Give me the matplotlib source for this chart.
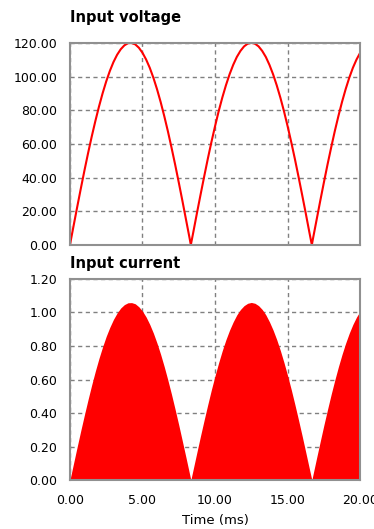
import matplotlib
matplotlib.use("Agg")
import matplotlib.pyplot as plt
from matplotlib.ticker import FormatStrFormatter

# sample times (ms) across 20 ms of full-wave rectified 60 Hz supply
time_ms = [
    0.0, 0.25, 0.5, 0.75, 1.0, 1.25, 1.5, 1.75, 2.0, 2.25, 2.5, 2.75,
    3.0, 3.25, 3.5, 3.75, 4.0, 4.25, 4.5, 4.75, 5.0, 5.25, 5.5, 5.75,
    6.0, 6.25, 6.5, 6.75, 7.0, 7.25, 7.5, 7.75, 8.0, 8.25, 8.33,
    8.5, 8.75, 9.0, 9.25, 9.5, 9.75, 10.0, 10.25, 10.5, 10.75, 11.0,
    11.25, 11.5, 11.75, 12.0, 12.25, 12.5, 12.75, 13.0, 13.25, 13.5,
    13.75, 14.0, 14.25, 14.5, 14.75, 15.0, 15.25, 15.5, 15.75, 16.0,
    16.25, 16.5, 16.67,
    16.75, 17.0, 17.25, 17.5, 17.75, 18.0, 18.25, 18.5, 18.75, 19.0,
    19.25, 19.5, 19.75, 20.0,
]

voltage = [
    0.0, 11.3, 22.5, 33.5, 44.2, 54.5, 64.3, 73.5, 82.1, 90.0, 97.1, 103.3,
    108.6, 112.9, 116.2, 118.5, 119.8, 119.9, 119.1, 117.1, 114.1, 110.1, 105.2, 99.3,
    92.5, 84.9, 76.5, 67.5, 57.8, 47.7, 37.1, 26.2, 15.0, 3.8, 0.0,
    7.5, 18.8, 29.8, 40.6, 51.1, 61.1, 70.5, 79.4, 87.5, 94.8, 101.3,
    106.9, 111.6, 115.2, 117.9, 119.5, 120.0, 119.5, 117.9, 115.2, 111.6,
    106.9, 101.3, 94.8, 87.5, 79.4, 70.5, 61.1, 51.1, 40.6, 29.8,
    18.8, 7.5, 0.0,
    3.8, 15.0, 26.2, 37.1, 47.7, 57.8, 67.5, 76.5, 84.9, 92.5,
    99.3, 105.2, 110.1, 114.1,
]

current = [
    0.0, 0.100, 0.199, 0.296, 0.390, 0.481, 0.568, 0.650, 0.726, 0.795, 0.858, 0.912,
    0.959, 0.997, 1.027, 1.047, 1.058, 1.059, 1.052, 1.034, 1.008, 0.973, 0.929, 0.877,
    0.817, 0.750, 0.676, 0.596, 0.511, 0.421, 0.328, 0.231, 0.133, 0.033, 0.0,
    0.067, 0.166, 0.264, 0.359, 0.451, 0.540, 0.623, 0.701, 0.773, 0.838, 0.895,
    0.944, 0.986, 1.018, 1.041, 1.055, 1.060, 1.055, 1.041, 1.018, 0.986,
    0.944, 0.895, 0.838, 0.773, 0.701, 0.623, 0.540, 0.451, 0.359, 0.264,
    0.166, 0.067, 0.0,
    0.033, 0.133, 0.231, 0.328, 0.421, 0.511, 0.596, 0.676, 0.750, 0.817,
    0.877, 0.929, 0.973, 1.008,
]

x_ticks = [0, 5, 10, 15, 20]
v_ticks = [0, 20, 40, 60, 80, 100, 120]
i_ticks = [0, 0.2, 0.4, 0.6, 0.8, 1.0, 1.2]

plt.rcParams["font.family"] = "DejaVu Sans"

fig = plt.figure(figsize=(3.74, 5.29), dpi=100)
ax_v = fig.add_axes([0.187, 0.537, 0.776, 0.382])
ax_i = fig.add_axes([0.187, 0.0926, 0.776, 0.380])


def style(ax, yticks, show_x):
    ax.set_xlim(0, 20)
    ax.set_ylim(yticks[0], yticks[-1])
    ax.set_xticks(x_ticks)
    ax.set_yticks(yticks)
    ax.yaxis.set_major_formatter(FormatStrFormatter("%.2f"))
    ax.xaxis.set_major_formatter(FormatStrFormatter("%.2f"))
    ax.set_axisbelow(True)
    ax.grid(True, color="#808080", linestyle=(0, (3, 2.5)), linewidth=1.0)
    for sp in ax.spines.values():
        sp.set_color("#909090")
        sp.set_linewidth(1.5)
        sp.set_zorder(3)
    ax.tick_params(length=0, labelsize=9, pad=9, labelbottom=show_x)


ax_v.plot(time_ms, voltage, color="#ff0000", linewidth=1.5, zorder=2)
style(ax_v, v_ticks, False)

ax_i.fill_between(time_ms, current, 0, color="#ff0000", linewidth=0, zorder=2)
style(ax_i, i_ticks, True)
ax_i.tick_params(axis="x", pad=10)
ax_i.set_xlabel("Time (ms)", fontsize=9.5, labelpad=5)

fig.text(0.187, 0.966, "Input voltage", fontsize=10.5, fontweight="bold", va="center")
fig.text(0.187, 0.501, "Input current", fontsize=10.5, fontweight="bold", va="center")

fig.savefig("out.png", dpi=100, facecolor="white")
